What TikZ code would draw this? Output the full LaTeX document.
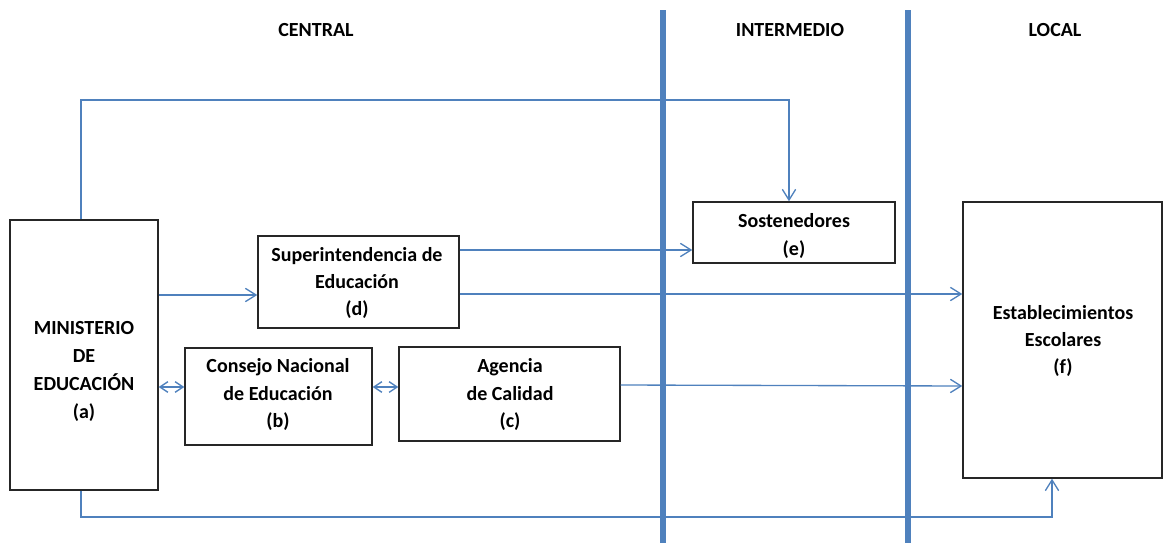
\documentclass[tikz,border=0pt]{standalone}
\usepackage{fontspec}
\setmainfont{Carlito}
\usetikzlibrary{arrows.meta}
\definecolor{lnblue}{HTML}{4F81BD}
\tikzset{
  box/.style={draw=black!85, line width=1.1pt, inner sep=0pt},
  txt/.style={align=center, font=\bfseries\fontsize{15}{20.3}\selectfont, inner sep=0pt},
  hdr/.style={font=\bfseries\fontsize{15}{18}\selectfont, inner sep=0pt},
  conn/.style={draw=lnblue, line width=1pt, -{Straight Barb[length=8pt,width=10pt]}},
  dconn/.style={draw=lnblue, line width=1pt, {Straight Barb[length=6pt,width=8pt]}-{Straight Barb[length=6pt,width=8pt]}},
  divider/.style={draw=lnblue, line width=3.8pt}
}
\begin{document}
\begin{tikzpicture}[x=0.75pt,y=-0.75pt]
\useasboundingbox (0,0) rectangle (1164,543);
% dividers
\coordinate (d1t) at (663,10); \coordinate (d1b) at (663,543);
\coordinate (d2t) at (908,10); \coordinate (d2b) at (908,543);
% headers
\node[hdr] (hc) at (316,30) {CENTRAL};
\node[hdr] (hi) at (790,30) {INTERMEDIO};
\node[hdr] (hl) at (1055,30) {LOCAL};
% boxes
\node[box, minimum width=148*0.75pt, minimum height=270*0.75pt] (a) at (84,355) {};
\node[box, minimum width=201*0.75pt, minimum height=92*0.75pt] (d) at (358.5,282) {};
\node[box, minimum width=187*0.75pt, minimum height=97*0.75pt] (b) at (278.5,396.5) {};
\node[box, minimum width=221*0.75pt, minimum height=94*0.75pt] (c) at (509.5,394) {};
\node[box, minimum width=202*0.75pt, minimum height=61*0.75pt] (e) at (794,232.5) {};
\node[box, minimum width=199*0.75pt, minimum height=276*0.75pt] (f) at (1062.5,340) {};
% texts
\node[txt] (at) at (84,371.5) {MINISTERIO\\[0.7pt]DE\\[0.7pt]EDUCACIÓN\\[0.7pt](a)};
\node[txt] (dt) at (357,283) {Superintendencia de\\Educación\\(d)};
\node[txt] (bt) at (278,394.5) {Consejo Nacional\\de Educación\\(b)};
\node[txt] (ct) at (510,394.5) {Agencia\\de Calidad\\(c)};
\node[txt] (et) at (794,236) {Sostenedores\\(e)};
\node[txt] (ft) at (1063,341) {Establecimientos\\Escolares\\(f)};
% dividers drawn
\draw[divider] (d1t) -- (d1b);
\draw[divider] (d2t) -- (d2b);
% connectors
\draw[conn] (a.north -| 81,0) -- (81,100) -- (789,100) -- (e.north -| 789,0);
\draw[conn] (a.east |- 0,295) -- (d.west |- 0,295);
\draw[conn] (d.east |- 0,250) -- (e.west |- 0,250);
\draw[conn] (d.east |- 0,294) -- (f.west |- 0,294);
\draw[dconn] (a.east |- 0,387) -- (b.west |- 0,387);
\draw[dconn] (b.east |- 0,387) -- (c.west |- 0,387);
\draw[conn] (c.east |- 0,385) -- (f.west |- 0,386);
\draw[conn] (a.south -| 81,0) -- (81,517) -- (1052,517) -- (f.south -| 1052,0);
\end{tikzpicture}
\end{document}
